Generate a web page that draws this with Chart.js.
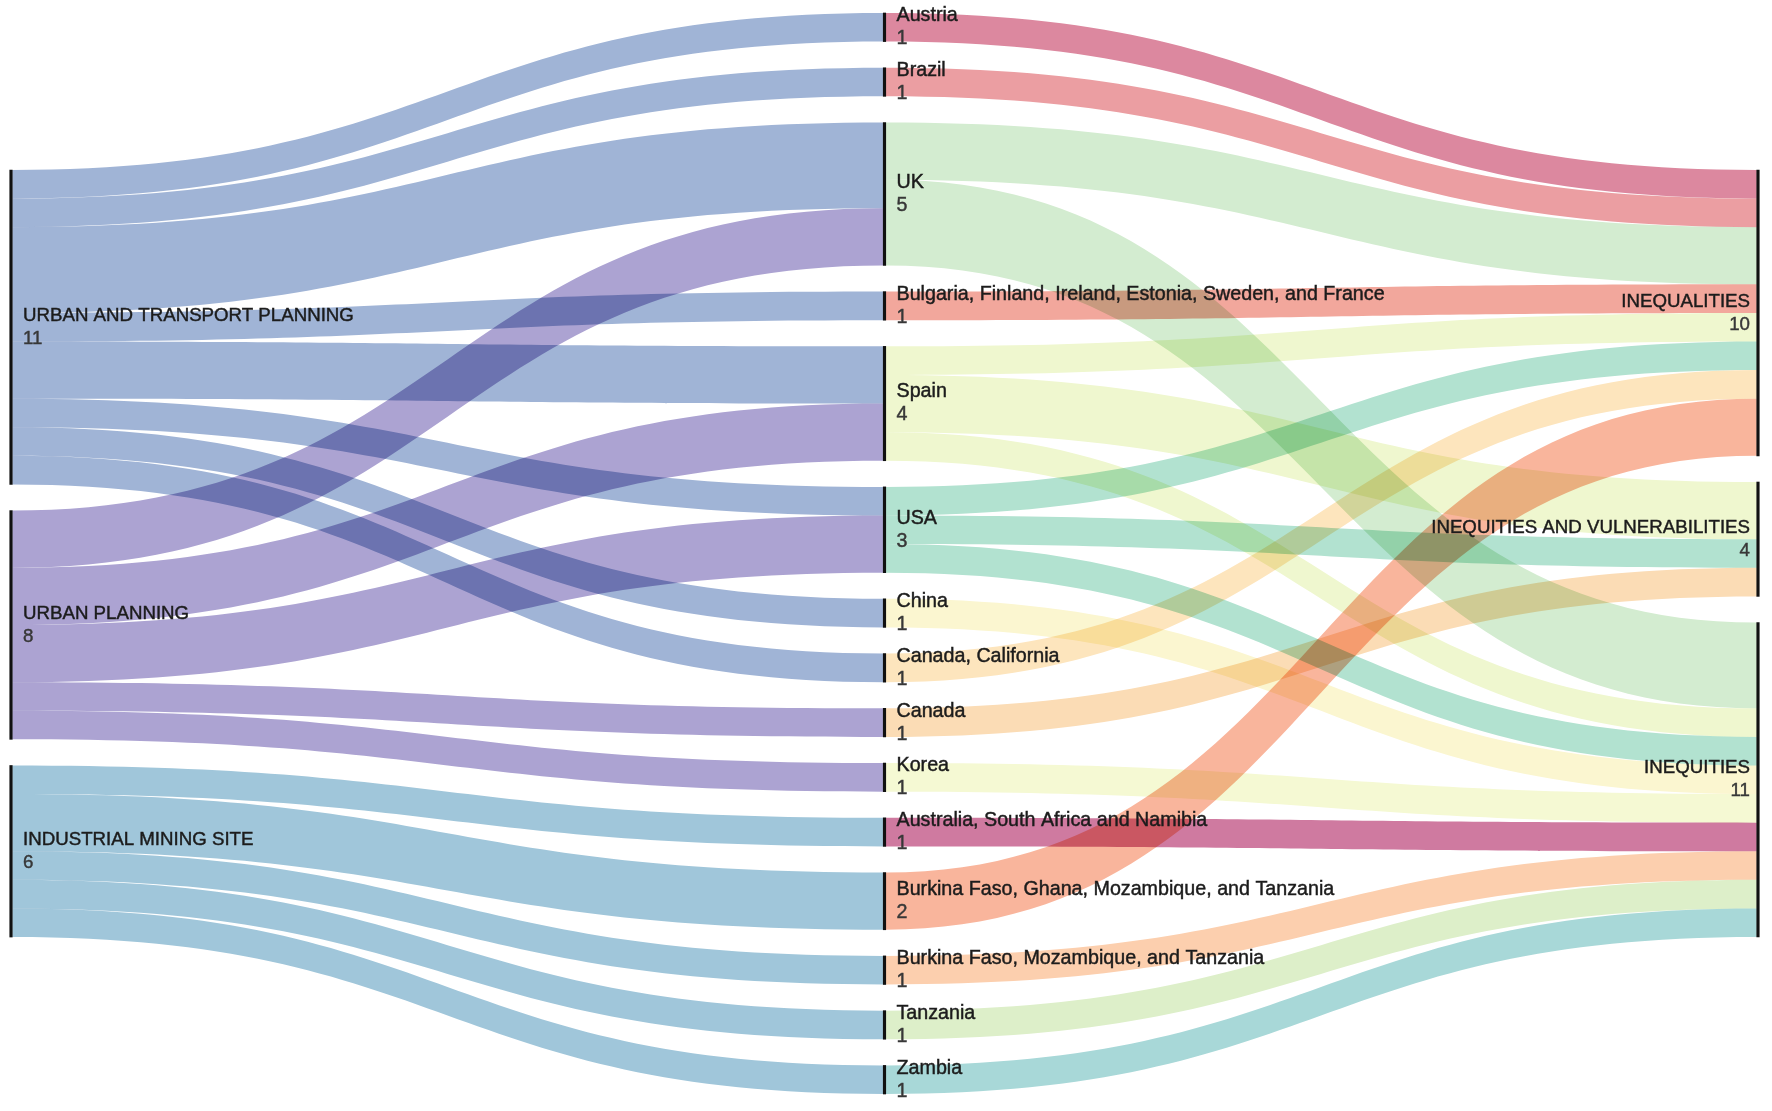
<!DOCTYPE html>
<html>
<head>
<meta charset="utf-8">
<script src="https://cdn.jsdelivr.net/npm/chart.js@4.4.1/dist/chart.umd.min.js"></script>
<style>
  html, body { margin: 0; padding: 0; background: #fff; }
  #wrap { width: 1772px; height: 1111px; }
</style>
</head>
<body>
<div id="wrap"><canvas id="sankey" width="1772" height="1111"></canvas></div>
<script>
// nodes of each column, top to bottom
const leftNodes = ["URBAN AND TRANSPORT PLANNING", "URBAN PLANNING", "INDUSTRIAL MINING SITE"];
const leftColors = ["#a0b4d6", "#aca3d2", "#a0c6da"];

const midNodes = [
  "Austria", "Brazil", "UK", "Bulgaria, Finland, Ireland, Estonia, Sweden, and France",
  "Spain", "USA", "China", "Canada, California", "Canada", "Korea",
  "Australia, South Africa and Namibia", "Burkina Faso, Ghana, Mozambique, and Tanzania",
  "Burkina Faso, Mozambique, and Tanzania", "Tanzania", "Zambia"
];
const midColors = [
  "#dc889f", "#eb9ea2", "#d3ecd0", "#f2a79c",
  "#eff7cf", "#b2e2d0", "#fbf6d0", "#fde5bd", "#fbdcb5", "#f5f9d3",
  "#cf7aa0", "#f9b59c",
  "#fccfae", "#ddefc9", "#a8d8d8"
];

const rightNodes = ["INEQUALITIES", "INEQUITIES AND VULNERABILITIES", "INEQUITIES"];

// stage 1 : field -> country
const stage1From = [
  "URBAN AND TRANSPORT PLANNING", "URBAN AND TRANSPORT PLANNING", "URBAN AND TRANSPORT PLANNING",
  "URBAN AND TRANSPORT PLANNING", "URBAN AND TRANSPORT PLANNING", "URBAN AND TRANSPORT PLANNING",
  "URBAN AND TRANSPORT PLANNING", "URBAN AND TRANSPORT PLANNING",
  "URBAN PLANNING", "URBAN PLANNING", "URBAN PLANNING", "URBAN PLANNING", "URBAN PLANNING",
  "INDUSTRIAL MINING SITE", "INDUSTRIAL MINING SITE", "INDUSTRIAL MINING SITE",
  "INDUSTRIAL MINING SITE", "INDUSTRIAL MINING SITE"
];
const stage1To = [
  "Austria", "Brazil", "UK", "Bulgaria, Finland, Ireland, Estonia, Sweden, and France",
  "Spain", "USA", "China", "Canada, California",
  "UK", "Spain", "USA", "Canada", "Korea",
  "Australia, South Africa and Namibia", "Burkina Faso, Ghana, Mozambique, and Tanzania",
  "Burkina Faso, Mozambique, and Tanzania", "Tanzania", "Zambia"
];
const stage1Value = [1, 1, 3, 1, 2, 1, 1, 1, 2, 2, 2, 1, 1, 1, 2, 1, 1, 1];

// stage 2 : country -> theme
const stage2From = [
  "Austria", "Brazil", "UK", "UK", "Bulgaria, Finland, Ireland, Estonia, Sweden, and France",
  "Spain", "Spain", "Spain", "USA", "USA", "USA", "China", "Canada, California", "Canada",
  "Korea", "Australia, South Africa and Namibia", "Burkina Faso, Ghana, Mozambique, and Tanzania",
  "Burkina Faso, Mozambique, and Tanzania", "Tanzania", "Zambia"
];
const stage2To = [
  "INEQUALITIES", "INEQUALITIES", "INEQUALITIES", "INEQUITIES", "INEQUALITIES",
  "INEQUALITIES", "INEQUITIES AND VULNERABILITIES", "INEQUITIES",
  "INEQUALITIES", "INEQUITIES AND VULNERABILITIES", "INEQUITIES",
  "INEQUITIES", "INEQUALITIES", "INEQUITIES AND VULNERABILITIES",
  "INEQUITIES", "INEQUITIES", "INEQUALITIES",
  "INEQUITIES", "INEQUITIES", "INEQUITIES"
];
const stage2Value = [1, 1, 2, 3, 1, 1, 2, 1, 1, 1, 1, 1, 1, 1, 1, 1, 2, 1, 1, 1];

const nodePadding = 0.915; // gap between nodes, in flow units

// stack nodes and links in data units
function buildLayout() {
  const columns = [leftNodes, midNodes, rightNodes];
  const nodes = {};
  columns.forEach((names, col) => {
    names.forEach((name, i) => {
      nodes[name] = { name, col, order: i, inVal: 0, outVal: 0, outs: [], ins: [] };
    });
  });

  const links = [];
  function addStage(from, to, values, colors, colorNames) {
    from.forEach((src, i) => {
      const link = {
        source: nodes[src], target: nodes[to[i]], value: values[i],
        color: colors[colorNames.indexOf(src)]
      };
      link.source.outVal += link.value;
      link.target.inVal += link.value;
      link.source.outs.push(link);
      link.target.ins.push(link);
      links.push(link);
    });
  }
  addStage(stage1From, stage1To, stage1Value, leftColors, leftNodes);
  addStage(stage2From, stage2To, stage2Value, midColors, midNodes);

  const totals = columns.map(names =>
    names.reduce((s, n) => s + Math.max(nodes[n].inVal, nodes[n].outVal), 0) + (names.length - 1) * nodePadding
  );
  const maxTotal = Math.max(...totals);

  columns.forEach((names, col) => {
    let y = (maxTotal - totals[col]) / 2;
    names.forEach(n => {
      const node = nodes[n];
      node.value = Math.max(node.inVal, node.outVal);
      node.y0 = y;
      node.y1 = y + node.value;
      y = node.y1 + nodePadding;
    });
  });

  Object.values(nodes).forEach(node => {
    let y = node.y0;
    node.outs.sort((a, b) => a.target.order - b.target.order).forEach(l => { l.sy = y; y += l.value; });
    y = node.y0;
    node.ins.sort((a, b) => a.source.order - b.source.order).forEach(l => { l.ty = y; y += l.value; });
  });

  return { nodes: Object.values(nodes), links, maxTotal };
}

const layout = buildLayout();
const nodeBars = layout.nodes.map(n => ({ x: n.col, y: [n.y0, n.y1] }));

const BAR_W = 2.5;

// ribbons between the node bars
const flowPlugin = {
  id: "sankeyFlows",
  beforeDatasetsDraw(chart) {
    const ctx = chart.ctx;
    const xs = chart.scales.x, ys = chart.scales.y;
    ctx.save();
    ctx.globalCompositeOperation = "multiply";
    layout.links.forEach(l => {
      const x0 = xs.getPixelForValue(l.source.col) + BAR_W / 2;
      const x1 = xs.getPixelForValue(l.target.col) - BAR_W / 2;
      const xm = (x0 + x1) / 2;
      const s0 = ys.getPixelForValue(l.sy), s1 = ys.getPixelForValue(l.sy + l.value);
      const t0 = ys.getPixelForValue(l.ty), t1 = ys.getPixelForValue(l.ty + l.value);
      ctx.beginPath();
      ctx.moveTo(x0, s0);
      ctx.bezierCurveTo(xm, s0, xm, t0, x1, t0);
      ctx.lineTo(x1, t1);
      ctx.bezierCurveTo(xm, t1, xm, s1, x0, s1);
      ctx.closePath();
      ctx.fillStyle = l.color;
      ctx.fill();
    });
    ctx.restore();
  }
};

// node names and totals
const labelSize = [18.7, 19.7, 18.7];
const labelPlugin = {
  id: "sankeyLabels",
  afterDatasetsDraw(chart) {
    const ctx = chart.ctx;
    const xs = chart.scales.x, ys = chart.scales.y;
    ctx.save();
    ctx.textBaseline = "middle";
    ctx.lineWidth = 0.45;
    layout.nodes.forEach(n => {
      const cy = (ys.getPixelForValue(n.y0) + ys.getPixelForValue(n.y1)) / 2;
      let x;
      ctx.font = labelSize[n.col] + 'px "Liberation Sans", Arial, sans-serif';
      if (n.col === 2) {
        ctx.textAlign = "right";
        x = xs.getPixelForValue(n.col) - 8;
      } else {
        ctx.textAlign = "left";
        x = xs.getPixelForValue(n.col) + 12;
      }
      ctx.fillStyle = ctx.strokeStyle = "#1c1c1c";
      ctx.fillText(n.name, x, cy - 11.5);
      ctx.strokeText(n.name, x, cy - 11.5);
      ctx.fillStyle = ctx.strokeStyle = "#383838";
      ctx.fillText(String(n.value), x, cy + 11.5);
      ctx.strokeText(String(n.value), x, cy + 11.5);
    });
    ctx.restore();
  }
};

new Chart(document.getElementById("sankey"), {
  type: "bar",
  data: {
    datasets: [{
      data: nodeBars,
      backgroundColor: "#111111",
      barThickness: BAR_W,
      clip: false
    }]
  },
  options: {
    responsive: false,
    animation: false,
    devicePixelRatio: 1,
    layout: { padding: { left: 11, right: 14, top: 13, bottom: 17 } },
    scales: {
      x: { type: "linear", min: 0, max: 2, offset: false, display: false },
      y: { type: "linear", min: 0, max: layout.maxTotal, reverse: true, display: false }
    },
    plugins: {
      legend: { display: false },
      tooltip: { enabled: false }
    }
  },
  plugins: [flowPlugin, labelPlugin]
});
</script>
</body>
</html>
